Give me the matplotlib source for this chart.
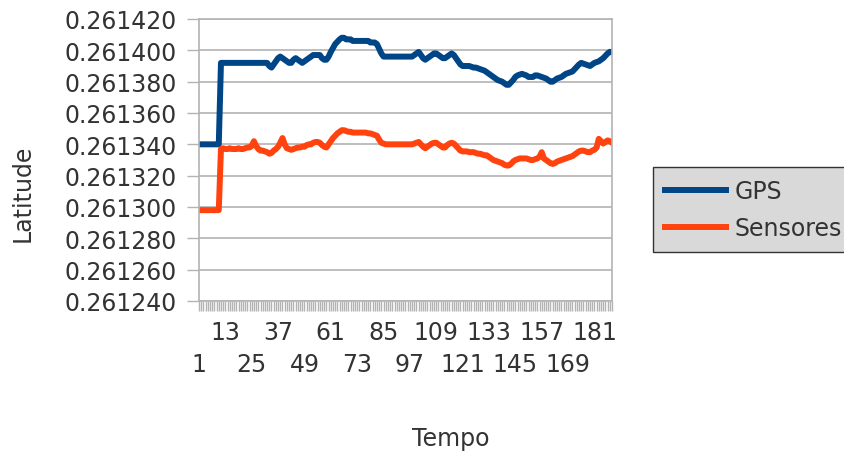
import numpy as np
import matplotlib
matplotlib.use("Agg")
import matplotlib.pyplot as plt

plt.rcParams['font.family'] = ['DejaVu Sans']

# latitude offsets, in units of 1e-6 above 0.261300
gps_off = [
    40, 40, 40, 40, 40, 40, 40, 40, 40, 40,
    92, 92, 92, 92, 92, 92, 92, 92, 92, 92,
    92, 92, 92, 92, 92, 92, 92, 92, 92, 92,
    92, 92, 90, 89, 91, 93, 95, 96, 95, 94,
    93, 92, 92, 94, 95, 94, 93, 92, 93, 94,
    95, 96, 97, 97, 97, 97, 95, 94, 94, 96,
    99, 101.5, 104, 105.5, 107, 108, 108, 107, 107, 107,
    106, 106, 106, 106, 106, 106, 106, 106, 105, 105,
    105, 104, 101, 98, 96, 96, 96, 96, 96, 96,
    96, 96, 96, 96, 96, 96, 96, 96, 97, 98,
    99, 97, 95, 94, 95, 96, 97, 98, 98, 97,
    96, 95, 95, 96, 97, 98, 97, 95, 93, 91,
    90, 90, 90, 90, 89.5, 89, 89, 88.5, 88, 87.5,
    87, 86, 85, 84, 83, 82, 81, 80.5, 80, 79,
    78, 78, 79.5, 81, 83, 84, 84.5, 85, 84.5, 84,
    83, 83, 83, 84, 84, 83.5, 83, 82.5, 82, 81,
    80, 80, 81, 82, 82.5, 83, 84, 85, 85.5, 86,
    86.5, 88, 89.5, 91, 92, 91.5, 91, 90.5, 90, 91,
    92, 92.5, 93, 94, 95, 96.5, 98, 99, 99,
]

sens_off = [
    -2, -2, -2, -2, -2, -2, -2, -2, -2, -2,
    37, 37.5, 37, 37, 37.5, 37, 37, 37, 37.5, 37,
    37, 37.5, 38, 38, 39, 42, 39, 37, 36, 36,
    35.5, 35, 34, 34.5, 36, 37, 38.5, 41, 44, 40,
    37.5, 37, 36.5, 37, 37.5, 38, 38, 38.5, 38.5, 39.5,
    40, 40, 41, 41.5, 41.5, 41, 39.5, 38.5, 38, 40,
    42, 44, 45.5, 47, 48, 49, 49, 48.5, 48, 48,
    47.5, 47.5, 47.5, 47.5, 47.5, 47.5, 47.5, 47, 47, 46.5,
    46, 45.5, 43, 41, 40.5, 40, 40, 40, 40, 40,
    40, 40, 40, 40, 40, 40, 40, 40, 40.5, 41,
    41.5, 40, 38.5, 37.5, 38.5, 39.5, 40.5, 41, 41, 40,
    39, 38, 38, 39.5, 40.5, 41, 40.5, 39, 37.5, 36,
    35.5, 35.5, 35.5, 35, 35, 35, 34.5, 34, 34, 33.5,
    33, 33, 32, 31, 30, 29.5, 29, 28.5, 28, 27,
    26.5, 26.5, 27.5, 29, 30, 30.5, 31, 31, 31, 31,
    30.5, 30, 30, 30.5, 31, 32, 35, 31, 30, 29,
    28, 27.5, 28, 29, 29.5, 30, 30.5, 31, 31.5, 32,
    32.5, 33.5, 34.5, 35.5, 36, 36, 35.5, 35, 35, 36,
    36.5, 38, 43.5, 42, 40.5, 41.5, 42.5, 42, 41,
]

base = 0.261300
gps = base + np.array(gps_off) * 1e-6
sensores = base + np.array(sens_off) * 1e-6
tempo = np.arange(1, len(gps) + 1)

upper_pos = [13, 37, 61, 85, 109, 133, 157, 181]
lower_pos = [1, 25, 49, 73, 97, 121, 145, 169]
y_ticks = [0.261240, 0.261260, 0.261280, 0.261300, 0.261320,
           0.261340, 0.261360, 0.261380, 0.261400, 0.261420]

grid_c = '#b3b3b3'
text_c = '#333333'

fig = plt.figure(figsize=(8.45, 4.52), dpi=100)
ax = fig.add_axes([199/845, 1 - 302/452, (612 - 199)/845, (302 - 20)/452])

ax.plot(tempo, gps, color='#004586', lw=4.3, label='GPS', solid_joinstyle='round')
ax.plot(tempo, sensores, color='#ff420e', lw=4.3, label='Sensores', solid_joinstyle='round')

ax.set_xlim(1, len(gps))
ax.set_ylim(y_ticks[0], y_ticks[-1])
ax.set_yticks(y_ticks)
ax.set_yticklabels(['%.6f' % v for v in y_ticks])
ax.yaxis.grid(True, color=grid_c, lw=1.2)
ax.set_axisbelow(True)

# upper row of category labels on the main axis, every category gets a tick
ax.set_xticks(upper_pos)
ax.set_xticklabels([str(v) for v in upper_pos])
ax.set_xticks(tempo, minor=True)
ax.tick_params(axis='x', which='both', length=7, width=1, color=grid_c,
               labelsize=17, labelcolor=text_c, pad=7)
ax.tick_params(axis='y', length=9, width=1, color=grid_c,
               labelsize=17, labelcolor=text_c, pad=7)

# lower row of labels (staggered)
sec = ax.secondary_xaxis('bottom')
sec.set_xticks(lower_pos)
sec.set_xticklabels([str(v) for v in lower_pos])
sec.tick_params(axis='x', length=0, labelsize=17, labelcolor=text_c, pad=37)
sec.spines['bottom'].set_visible(False)

for s in ax.spines.values():
    s.set_color(grid_c)
    s.set_linewidth(1.2)

fig.text(23/845, 1 - 193/452, 'Latitude', rotation=90, ha='center', va='center',
         fontsize=17, color=text_c)
fig.text(451/845, 1 - 439/452, 'Tempo', ha='center', va='center',
         fontsize=17, color=text_c)

leg = fig.legend(loc='upper left', bbox_to_anchor=(653/845, 1 - 168/452),
                 fancybox=False, facecolor='#d9d9d9', edgecolor='#333333',
                 framealpha=1, fontsize=17, handlelength=2.6, handletextpad=0.35,
                 labelspacing=0.55, borderpad=0.5, borderaxespad=0)
for t in leg.get_texts():
    t.set_color(text_c)
leg.get_frame().set_linewidth(1.0)

fig.savefig('out.png', dpi=100)
